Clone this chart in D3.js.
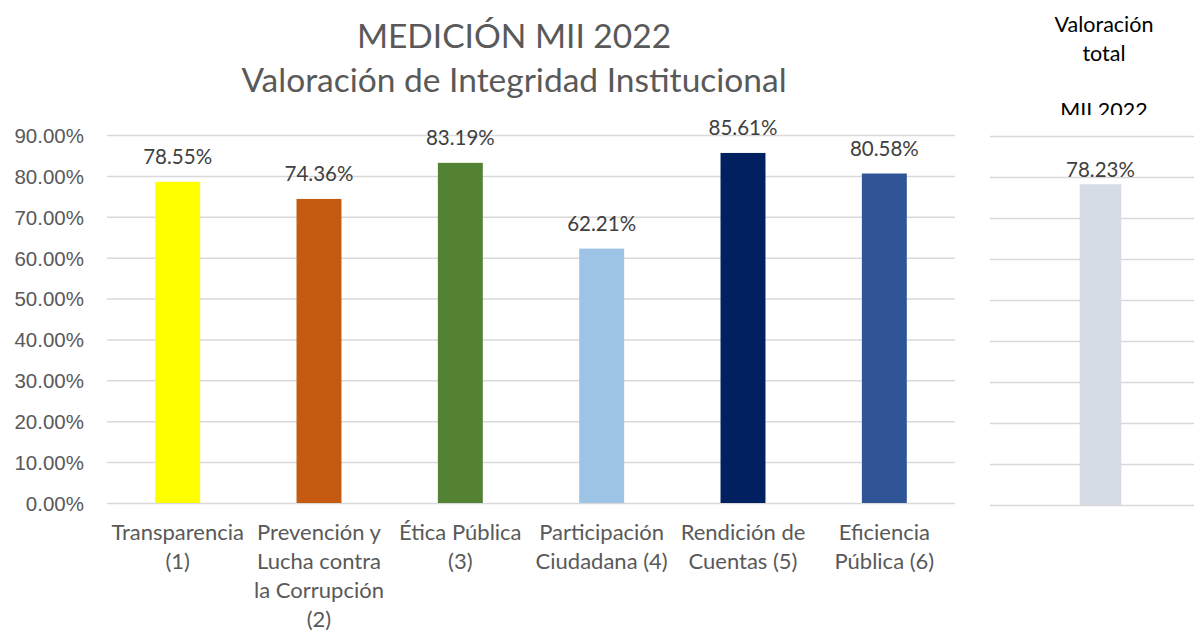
<!DOCTYPE html>
<html>
<head>
<meta charset="utf-8">
<script src="https://cdn.jsdelivr.net/npm/d3@7"></script>
<style>
  body { margin: 0; background: #fff; }
  svg { display: block; font-family: Lato, "Noto Sans", sans-serif; }
  .grid line { stroke: #d9d9d9; stroke-width: 1.5; }
  .grid .domain { display: none; }
  .tick text { fill: #595959; font-size: 20.5px; }
</style>
</head>
<body>
<svg id="chart" width="1194" height="632"></svg>
<script>
// values
const categories = [
  ["Transparencia", "(1)"],
  ["Prevención y", "Lucha contra", "la Corrupción", "(2)"],
  ["Ética Pública", "(3)"],
  ["Participación", "Ciudadana (4)"],
  ["Rendición de", "Cuentas (5)"],
  ["Eficiencia", "Pública (6)"]
];
const values = [0.7855, 0.7436, 0.8319, 0.6221, 0.8561, 0.8058];
const barColors = ["#FFFF00", "#C55A11", "#548235", "#9DC3E6", "#002060", "#2F5597"];
const totalLabel = ["Valoración", "total", "", "MII 2022"];
const totalValue = [0.7823];
const totalColor = "#D6DCE5";
const yTicks = [0, 0.1, 0.2, 0.3, 0.4, 0.5, 0.6, 0.7, 0.8, 0.9];
const titleLines = ["MEDICIÓN MII 2022", "Valoración de Integridad Institucional"];

const svg = d3.select("#chart");
const pct = d3.format(".2%");

// ---- main chart
const mLeft = 107, mRight = 955, mTop = 135, mBottom = 503;

const x = d3.scaleBand()
  .domain(d3.range(values.length))
  .range([mLeft, mRight])
  .paddingInner(0.682)
  .paddingOuter(0.341);

const y = d3.scaleLinear().domain([0, 0.9]).range([mBottom, mTop]);

svg.append("g")
  .attr("class", "grid")
  .attr("transform", `translate(${mLeft},0)`)
  .call(d3.axisLeft(y).tickValues(yTicks).tickFormat(pct)
    .tickSizeInner(-(mRight - mLeft)).tickSizeOuter(0).tickPadding(23))
  .call(g => g.selectAll(".tick text").attr("dy", "0.36em"));

svg.append("g").selectAll("rect")
  .data(values)
  .join("rect")
    .attr("x", (d, i) => x(i))
    .attr("y", d => y(d))
    .attr("width", x.bandwidth())
    .attr("height", d => y(0) - y(d))
    .attr("fill", (d, i) => barColors[i]);

svg.append("g").selectAll("text")
  .data(values)
  .join("text")
    .attr("x", (d, i) => x(i) + x.bandwidth() / 2)
    .attr("y", d => y(d) - 18)
    .attr("text-anchor", "middle")
    .attr("fill", "#404040")
    .attr("font-size", 20.5)
    .text(d => pct(d));

const catG = svg.append("g").selectAll("text")
  .data(categories)
  .join("text")
    .attr("text-anchor", "middle")
    .attr("fill", "#595959")
    .attr("font-size", 22);
catG.selectAll("tspan")
  .data((d, i) => d.map(line => ({ line, i })))
  .join("tspan")
    .attr("x", d => x(d.i) + x.bandwidth() / 2)
    .attr("y", (d, j) => 540 + j * 29)
    .text(d => d.line);

svg.append("g").selectAll("text")
  .data(titleLines)
  .join("text")
    .attr("x", 514)
    .attr("y", (d, i) => 48 + i * 44)
    .attr("text-anchor", "middle")
    .attr("fill", "#595959")
    .attr("font-size", 33.5)
    .text(d => d);

// ---- total panel
const tLeft = 990, tRight = 1194, tTop = 136, tBottom = 505;
const tx = d3.scaleBand().domain([0]).range([1000, 1201]).padding(0.657);
const ty = d3.scaleLinear().domain([0, 0.9]).range([tBottom, tTop]);

svg.append("g")
  .attr("class", "grid")
  .attr("transform", `translate(${tLeft},0)`)
  .call(d3.axisLeft(ty).tickValues(yTicks).tickFormat("")
    .tickSizeInner(-(tRight - tLeft)).tickSizeOuter(0));

svg.append("g").selectAll("rect")
  .data(totalValue)
  .join("rect")
    .attr("x", (d, i) => tx(i))
    .attr("y", d => ty(d))
    .attr("width", tx.bandwidth())
    .attr("height", d => ty(0) - ty(d))
    .attr("fill", totalColor);

svg.append("g").selectAll("text")
  .data(totalValue)
  .join("text")
    .attr("x", (d, i) => tx(i) + tx.bandwidth() / 2)
    .attr("y", d => ty(d) - 7)
    .attr("text-anchor", "middle")
    .attr("fill", "#404040")
    .attr("font-size", 20.5)
    .text(d => pct(d));

svg.append("clipPath").attr("id", "tclip")
  .append("rect").attr("x", 990).attr("y", 0).attr("width", 204).attr("height", 115);

svg.append("g").attr("clip-path", "url(#tclip)")
  .selectAll("text")
  .data(totalLabel)
  .join("text")
    .attr("x", 1104)
    .attr("y", (d, i) => 32 + i * 28.5)
    .attr("text-anchor", "middle")
    .attr("fill", "#000")
    .attr("font-size", 21.5)
    .text(d => d);
</script>
</body>
</html>
